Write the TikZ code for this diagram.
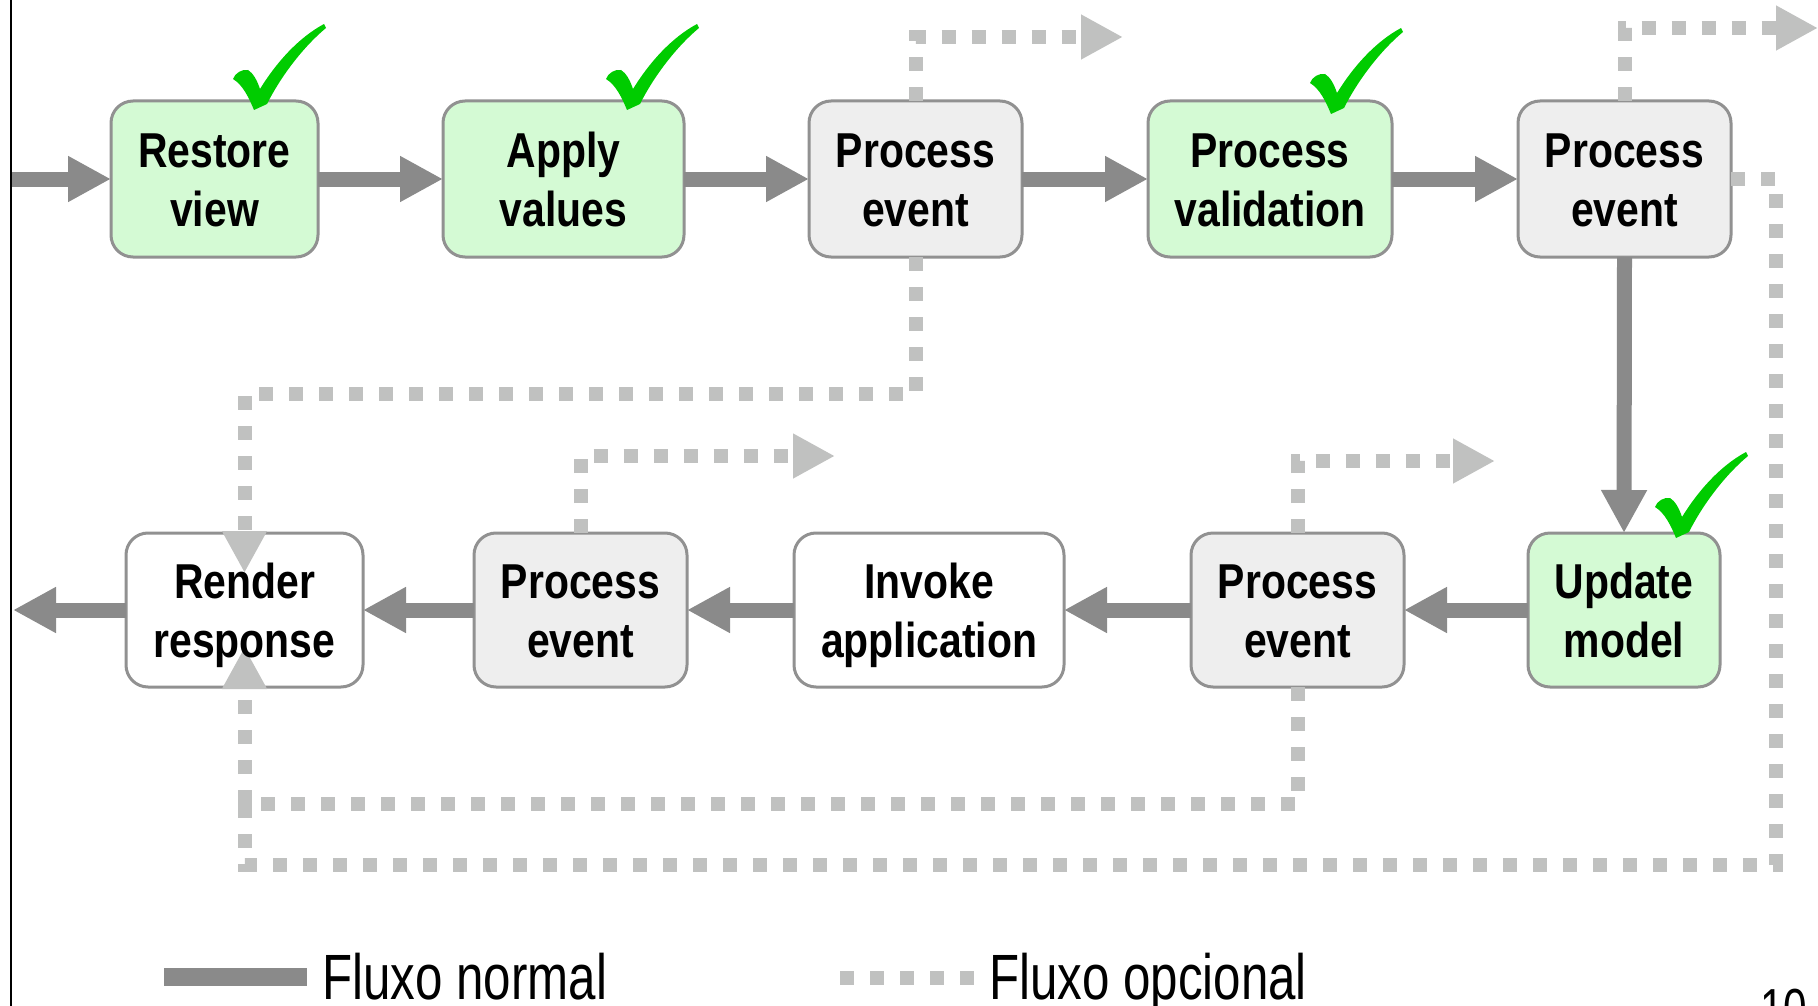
\documentclass[tikz,border=0pt]{standalone}
\usepackage{fontspec}
\setmainfont{Liberation Sans}
\newfontfamily\stagefamily{Liberation Sans}[FakeStretch=0.835]
\newfontfamily\legendfamily{Liberation Sans}[FakeStretch=0.77]
\usetikzlibrary{arrows.meta}
\definecolor{flowgray}{RGB}{138,138,138}
\definecolor{optgray}{RGB}{192,193,192}
\definecolor{framegray}{RGB}{145,145,145}
\definecolor{donegreen}{RGB}{212,250,212}
\definecolor{eventgray}{RGB}{238,238,238}
\definecolor{tickgreen}{RGB}{0,204,0}
\newcommand\stagefont{\stagefamily\bfseries\fontsize{49pt}{59pt}\selectfont}
\newcommand\legendfont{\legendfamily\fontsize{64pt}{70pt}\selectfont}
% two centred lines; the box runs from the last baseline to the first cap line
\newcommand\twoline[2]{\raisebox{0pt}[94pt][0pt]{\begin{tabular}[b]{@{}c@{}}#1\\#2\end{tabular}}}
\pgfdeclarelayer{boxes}
\pgfdeclarelayer{flows}
\pgfsetlayers{boxes,flows,main}
% rounded frame behind a stage node
\newcommand\stagebox[2]{\begin{pgfonlayer}{boxes}\draw[frame,fill=#2] (#1.south west) rectangle (#1.north east);\end{pgfonlayer}}

\begin{document}
\begin{tikzpicture}[x=1pt,y=-1pt,
  stage/.style={inner sep=0pt, outer sep=0pt, font=\stagefont, text=black},
  toprow/.style={stage, minimum height=156pt},
  botrow/.style={stage, minimum height=154pt},
  frame/.style={draw=framegray, line width=3pt, rounded corners=22pt},
  flowline/.style={draw=flowgray, line width=15pt},
  normal/.style={flowline, -{Triangle[length=43pt,width=43pt]}},
  optline/.style={draw=optgray, line width=14pt, dash pattern=on 14pt off 16pt},
  optional/.style={optline, -{Triangle[length=42pt,width=42pt]}},
  legendtext/.style={inner sep=0pt, font=\legendfont, text=black},
  tick/.pic={\fill[tickgreen] (0,0) .. controls (-5,-12) and (-11,-25) .. (-21,-31)
      .. controls (-19,-37) and (-12,-41) .. (-6,-40)
      .. controls (-1,-37) and (3,-30) .. (6,-21)
      .. controls (22,-47) and (44,-72) .. (70,-86) -- (72,-82)
      .. controls (48,-62) and (26,-32) .. (13,-6) -- cycle;}
]
\path[use as bounding box] (0,0) rectangle (1818,1006);
\clip (0,0) rectangle (1818,1006);

% page edge
\draw[line width=1.5pt] (11,0) -- (11,1006);

% upper row of stages
\node[toprow, minimum width=207pt] (rv)  at (214.5,179) {\twoline{Restore}{view}};
\node[toprow, minimum width=241pt] (av)  at (563.5,179) {\twoline{Apply}{values}};
\node[toprow, minimum width=213pt] (pe1) at (915.5,179) {\twoline{Process}{event}};
\node[toprow, minimum width=244pt] (pv)  at (1270,179)  {\twoline{Process}{validation}};
\node[toprow, minimum width=213pt] (pe2) at (1624.5,179) {\twoline{Process}{event}};
% lower row of stages
\node[botrow, minimum width=237pt] (rr)  at (244.5,610) {\twoline{Render}{response}};
\node[botrow, minimum width=213pt] (pe3) at (580.5,610) {\twoline{Process}{event}};
\node[botrow, minimum width=270pt] (ia)  at (929,610)   {\twoline{Invoke}{application}};
\node[botrow, minimum width=213pt] (pe4) at (1297.5,610) {\twoline{Process}{event}};
\node[botrow, minimum width=192pt] (um)  at (1624,610)  {\twoline{Update}{model}};

\stagebox{rv}{donegreen}
\stagebox{av}{donegreen}
\stagebox{pe1}{eventgray}
\stagebox{pv}{donegreen}
\stagebox{pe2}{eventgray}
\stagebox{rr}{white}
\stagebox{pe3}{eventgray}
\stagebox{ia}{white}
\stagebox{pe4}{eventgray}
\stagebox{um}{donegreen}

% free ends of the connectors
\coordinate (lin)  at (12,179);
\coordinate (lout) at (13,610);
\coordinate (oa)   at (1123,37);
\coordinate (ob)   at (1818,28);
\coordinate (od)   at (835,456);
\coordinate (oe)   at (1495,461);
\coordinate (fj)   at (244.5,804);

\begin{pgfonlayer}{flows}
% normal flow
\draw[normal] (lin) -- (rv.west);
\draw[normal] (rv.east) -- (av.west);
\draw[normal] (av.east) -- (pe1.west);
\draw[normal] (pe1.east) -- (pv.west);
\draw[normal] (pv.east) -- (pe2.west);
\draw[normal] (pe2.south) -- (um.north);
\draw[normal] (um.west) -- (pe4.east);
\draw[normal] (pe4.west) -- (ia.east);
\draw[normal] (ia.west) -- (pe3.east);
\draw[normal] (pe3.west) -- (rr.east);
\draw[normal] (rr.west) -- (lout);
% optional flow
\draw[optional] (pe1.north) |- (oa);
\draw[optional] (pe2.north) |- (ob);
\draw[optional] (pe3.north) |- (od);
\draw[optional] (pe4.north) |- (oe);
\draw[optional] (pe1.south) -- ++(0,137) -| ([yshift=-40pt]rr.north);
\draw[optline] (pe2.east) -| (1776,865) -| (fj);
\draw[optional] (pe4.south) |- (fj) -- ([yshift=40pt]rr.south);
\end{pgfonlayer}

% completed stages
\pic at (254,110) {tick};
\pic at (627,110) {tick};
\pic at (1331,114) {tick};
\pic at (1676,538) {tick};

% legend
\draw[flowline, line width=18pt] (164,977) -- (307,977);
\node[legendtext, anchor=base west] (lnormal) at (322,999) {Fluxo normal};
\draw[optline] (840,978) -- (975,978);
\node[legendtext, anchor=base west] (lopt) at (989,999) {Fluxo opcional};

% page number
\node[legendtext, anchor=base west, font=\legendfamily\fontsize{55pt}{60pt}\selectfont] (pg) at (1760,1027) {10};
\end{tikzpicture}
\end{document}
